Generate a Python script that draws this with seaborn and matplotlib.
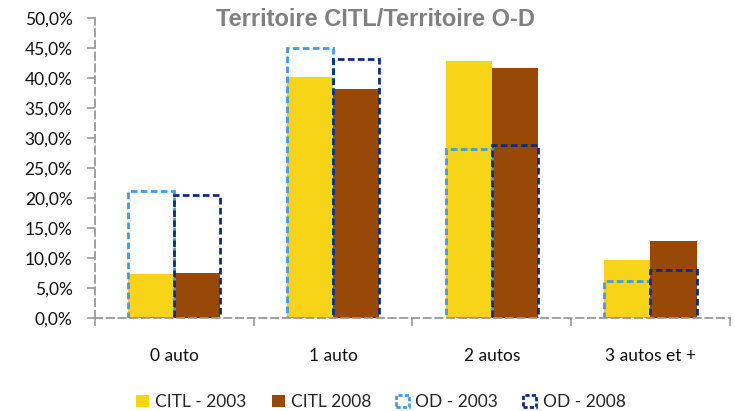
import pandas as pd
import matplotlib
matplotlib.use("Agg")
import matplotlib.pyplot as plt
from matplotlib.patches import Patch
from matplotlib.ticker import FuncFormatter, FixedLocator
import seaborn as sns

# données (part des ménages, %)
categories = ["0 auto", "1 auto", "2 autos", "3 autos et +"]
citl_2003 = [7.3, 40.1, 42.9, 9.7]
citl_2008 = [7.6, 38.1, 41.6, 12.9]
od_2003 = [21.2, 45.0, 28.1, 6.2]
od_2008 = [20.5, 43.2, 28.8, 8.0]

series_citl = ["CITL - 2003", "CITL 2008"]
series_od = ["OD - 2003", "OD - 2008"]

df_citl = pd.DataFrame({
    "cat": categories * 2,
    "serie": [series_citl[0]] * 4 + [series_citl[1]] * 4,
    "val": citl_2003 + citl_2008,
})
df_od = pd.DataFrame({
    "cat": categories * 2,
    "serie": [series_od[0]] * 4 + [series_od[1]] * 4,
    "val": od_2003 + od_2008,
})

c_yellow = "#F7D417"
c_brown = "#984807"
c_lblue = "#4A98E0"
c_dblue = "#0E2D78"
grey = "#999999"

sns.set_style("white")
plt.rcParams["font.family"] = ["Lato", "DejaVu Sans"]

fig = plt.figure(figsize=(7.35, 4.11), dpi=100)
ax = fig.add_axes([0.129, 0.226, 0.864, 0.730])

sns.barplot(data=df_citl, x="cat", y="val", hue="serie",
            palette=[c_yellow, c_brown], width=0.58, ax=ax, saturation=1,
            linewidth=0, legend=False, errorbar=None)
sns.barplot(data=df_od, x="cat", y="val", hue="serie",
            palette=[c_lblue, c_dblue], width=0.58, ax=ax, saturation=1,
            fill=False, linewidth=2.0, linestyle=(0, (2.4, 1.2)),
            legend=False, errorbar=None)

ax.set_xlim(-0.5, 3.5)
ax.set_ylim(0, 50)
ax.set_xlabel("")
ax.set_ylabel("")

ax.yaxis.set_major_locator(FixedLocator([i * 5 for i in range(11)]))
ax.yaxis.set_major_formatter(FuncFormatter(lambda v, p: f"{v:.1f}%".replace(".", ",")))
ax.tick_params(axis="y", which="major", left=True, length=6, width=1.2,
               color=grey, labelsize=12.5, pad=10, labelcolor="#111111")

# étiquettes x sans trait, traits aux séparations
ax.tick_params(axis="x", which="major", bottom=False, labelsize=12.5,
               pad=18, labelcolor="#111111")
ax.xaxis.set_minor_locator(FixedLocator([-0.5, 0.5, 1.5, 2.5, 3.5]))
ax.tick_params(axis="x", which="minor", bottom=True, length=6, width=1.2,
               color=grey)

for s in ["top", "right"]:
    ax.spines[s].set_visible(False)
for s in ["left", "bottom"]:
    ax.spines[s].set_color(grey)
    ax.spines[s].set_linewidth(1.3)
    ax.spines[s].set_linestyle((0, (4, 2.5)))
ax.grid(False)

fig.text(0.511, 0.952, "Territoire CITL/Territoire O-D", ha="center",
         va="center", fontsize=17, fontweight="bold", color="#808080",
         family=["Liberation Sans", "DejaVu Sans"])

handles = [
    Patch(facecolor=c_yellow, edgecolor="none", label=series_citl[0]),
    Patch(facecolor=c_brown, edgecolor="none", label=series_citl[1]),
    Patch(facecolor="none", edgecolor=c_lblue, linewidth=2,
          linestyle=(0, (1.5, 0.8)), label=series_od[0]),
    Patch(facecolor="none", edgecolor=c_dblue, linewidth=2,
          linestyle=(0, (1.5, 0.8)), label=series_od[1]),
]
fig.legend(handles=handles, loc="center", bbox_to_anchor=(0.518, 0.022),
           ncol=4, frameon=False, fontsize=12.5, handlelength=0.75,
           handleheight=0.75, handletextpad=0.35, columnspacing=1.45)

fig.savefig("out.png", dpi=100)
